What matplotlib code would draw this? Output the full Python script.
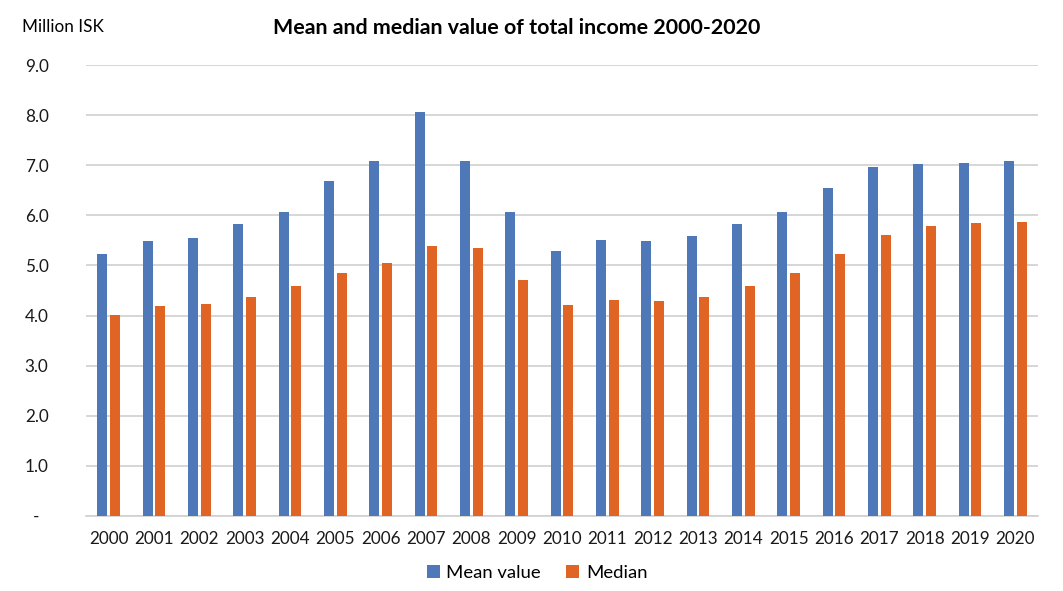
import matplotlib
matplotlib.use('Agg')
import matplotlib.pyplot as plt
import numpy as np
from matplotlib.ticker import FuncFormatter

plt.rcParams['font.family'] = ['Lato', 'DejaVu Sans']

years = [str(y) for y in range(2000, 2021)]
mean_value = [5.23, 5.49, 5.55, 5.83, 6.07, 6.69, 7.09, 8.06, 7.09, 6.07, 5.29,
              5.51, 5.49, 5.59, 5.83, 6.07, 6.55, 6.97, 7.03, 7.05, 7.09]
median = [4.01, 4.19, 4.23, 4.37, 4.59, 4.85, 5.05, 5.38, 5.35, 4.71, 4.21,
          4.31, 4.29, 4.37, 4.59, 4.85, 5.23, 5.61, 5.79, 5.85, 5.87]

blue = '#4F78B9'
orange = '#E06423'

fig = plt.figure(figsize=(10.63, 5.91), dpi=100)
ax = fig.add_axes([86 / 1063, 75 / 591, 952 / 1063, 451 / 591])

x = np.arange(len(years))
w = 0.22
off = 0.143
ax.bar(x - off, mean_value, w, color=blue, label='Mean value', zorder=3)
ax.bar(x + off, median, w, color=orange, label='Median', zorder=3)

ax.set_xlim(-0.5, len(years) - 0.5)
ax.set_ylim(0, 9)
ax.set_yticks(np.arange(0, 9.5, 1))
ax.yaxis.set_major_formatter(FuncFormatter(lambda v, p: '-  ' if v == 0 else f'{v:.1f}'))
ax.set_xticks(x)
ax.set_xticklabels(years)
ax.tick_params(axis='both', length=0, labelsize=12.3, colors='#1a1a1a')
ax.tick_params(axis='y', pad=27)
ax.tick_params(axis='x', pad=11)
ax.grid(axis='y', color='#D0D0D0', linewidth=1.2, zorder=0)
for s in ['top', 'right', 'left']:
    ax.spines[s].set_visible(False)
ax.spines['bottom'].set_color('#D0D0D0')
ax.spines['bottom'].set_linewidth(1.2)

fig.text(517 / 1063, 1 - 28 / 591, 'Mean and median value of total income 2000-2020',
         ha='center', va='center', fontsize=15.4, fontweight='bold')
fig.text(22 / 1063, 1 - 27 / 591, 'Million ISK', ha='left', va='center', fontsize=12.3)

fig.legend(loc='center', bbox_to_anchor=(537 / 1063, 1 - 573 / 591), ncol=2,
           frameon=False, fontsize=13.3, handlelength=0.7, handleheight=0.7,
           handletextpad=0.35, columnspacing=1.4)

fig.savefig('out.png', dpi=100)
